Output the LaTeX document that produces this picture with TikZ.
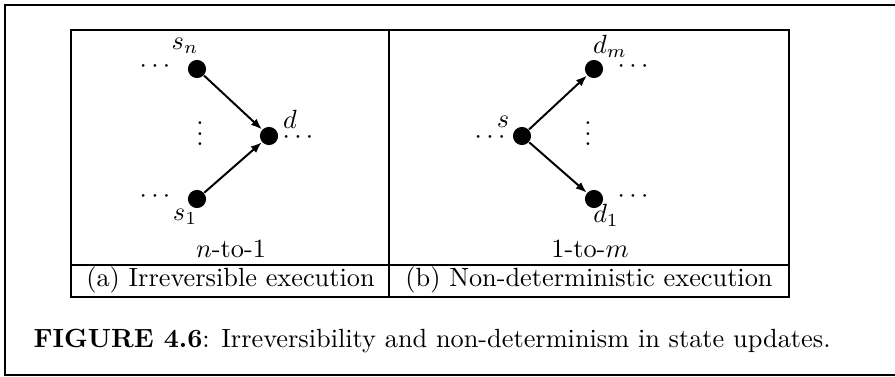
\documentclass[tikz,border=0pt]{standalone}
\usetikzlibrary{arrows.meta}
\begin{document}
\begin{tikzpicture}[x=0.38pt,y=-0.38pt,
  state/.style={circle,fill,inner sep=0pt,minimum size=6.9pt},
  lab/.style={inner sep=0pt},
  frame/.style={line width=0.85pt},
  edge/.style={line width=0.75pt,-{Latex[length=4.2pt,width=3.2pt]}}]
\useasboundingbox (0,0) rectangle (895,376);
% outer frame (right side lies beyond the page)
\draw[frame] (900,5) -- (5,5) -- (5,375) -- (900,375);
% panel boxes
\draw[frame] (71,30) rectangle (789,297);
\draw[frame] (389,30) -- (389,297);
\draw[frame] (71,265) -- (789,265);

% (a) n-to-1
\node[state] (sn) at (197,69) {};
\node[state] (s1) at (197,199) {};
\node[state] (d) at (269,136) {};
\draw[edge] (sn) -- (d);
\draw[edge] (s1) -- (d);
\node[lab] (lsn) at (185,46) {$s_n$};
\node[lab] (ls1) at (185,217) {$s_1$};
\node[lab] (ld) at (290,119) {$d$};
\node[lab] (dsn) at (155,67) {$\cdots$};
\node[lab] (ds1) at (155,197) {$\cdots$};
\node[lab] (dd) at (298,138) {$\cdots$};
\node[lab] (va) at (200,134) {\vbox{\baselineskip4pt\lineskiplimit0pt\hbox{.}\hbox{.}\hbox{.}}};
\node[lab] (ta) at (231,248.5) {$n$-to-1};
\node[lab] (ca) at (230.5,280) {(a) Irreversible execution};

% (b) 1-to-m
\node[state] (s) at (522,136) {};
\node[state] (dm) at (594,69) {};
\node[state] (d1) at (594,199) {};
\draw[edge] (s) -- (dm);
\draw[edge] (s) -- (d1);
\node[lab] (ls) at (503,122) {$s$};
\node[lab] (ldm) at (610,46) {$d_m$};
\node[lab] (ld1) at (606,215) {$d_1$};
\node[lab] (ds) at (490,138) {$\cdots$};
\node[lab] (ddm) at (633,67) {$\cdots$};
\node[lab] (dd1) at (633,197) {$\cdots$};
\node[lab] (vb) at (588,134) {\vbox{\baselineskip4pt\lineskiplimit0pt\hbox{.}\hbox{.}\hbox{.}}};
\node[lab] (tb) at (590,248.5) {1-to-$m$};
\node[lab] (cb) at (589,280) {(b) Non-deterministic execution};

% caption
\node[lab,anchor=base west] (cap) at (33,347) {\textbf{FIGURE 4.6}: Irreversibility and non-determinism in state updates.};
\end{tikzpicture}
\end{document}
